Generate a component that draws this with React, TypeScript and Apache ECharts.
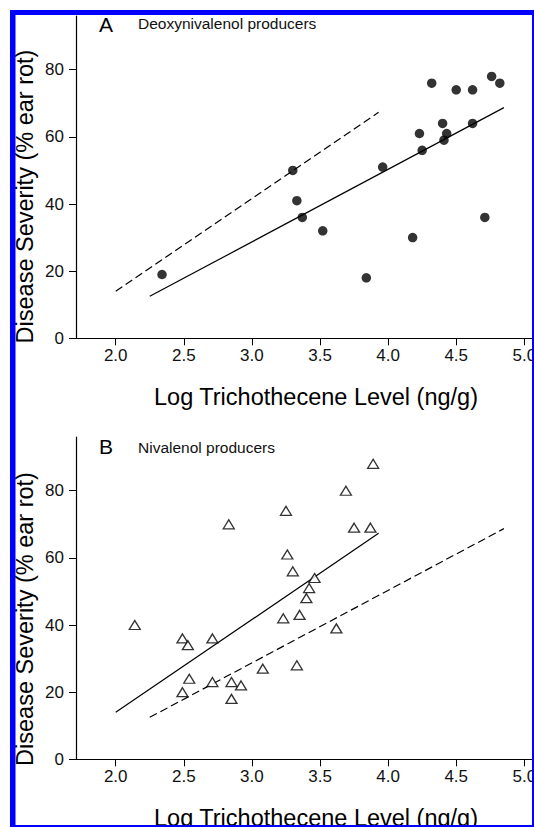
import React, { useEffect, useRef } from "react";
import * as echarts from "echarts";

// Panel A: deoxynivalenol producers (filled circles)
const donX = [2.34, 3.30, 3.33, 3.37, 3.52, 3.84, 3.96, 4.18, 4.23, 4.25, 4.32, 4.40, 4.41, 4.43, 4.50, 4.62, 4.62, 4.71, 4.76, 4.82];
const donY = [19, 50, 41, 36, 32, 18, 51, 30, 61, 56, 76, 64, 59, 61, 74, 74, 64, 36, 78, 76];

// Panel B: nivalenol producers (open triangles)
const nivX = [2.14, 2.49, 2.53, 2.71, 2.54, 2.49, 2.71, 2.85, 2.92, 2.85, 3.08, 3.33, 2.83, 3.25, 3.26, 3.30, 3.46, 3.42, 3.40, 3.23, 3.35, 3.62, 3.69, 3.75, 3.87, 3.89];
const nivY = [40, 36, 34, 36, 24, 20, 23, 23, 22, 18, 27, 28, 70, 74, 61, 56, 54, 51, 48, 42, 43, 39, 80, 69, 69, 88];

// Regression lines (end points)
const donFitX = [2.25, 4.85];
const donFitY = [12.5, 68.7];
const nivFitX = [2.0, 3.93];
const nivFitY = [14.0, 67.3];

const xTicks = [2.0, 2.5, 3.0, 3.5, 4.0, 4.5, 5.0];
const yTicks = [0, 20, 40, 60, 80];

const panelLetters = ["A", "B"];
const panelTitles = ["Deoxynivalenol producers", "Nivalenol producers"];
const xName = "Log Trichothecene Level (ng/g)";
const yName = "Disease Severity (% ear rot)";

const FONT = "'Liberation Sans', Arial, Helvetica, sans-serif";

const zip = (xs: number[], ys: number[]) => xs.map((x, i) => [x, ys[i]]);

export default function App() {
  const ref = useRef<HTMLDivElement>(null);
  useEffect(() => {
    if (!ref.current) return;
    const chart = echarts.init(ref.current, null, { renderer: "svg" });
    const X_MIN = 1.7085;
    const X_MAX = 5.071;
    const gridTops = [16, 437];
    const H = 322.3;
    const xAxisBase = (idx: number) => ({
      type: "value",
      gridIndex: idx,
      min: X_MIN,
      max: X_MAX,
      axisLine: { show: true, lineStyle: { color: "#000", width: 1.2 } },
      axisTick: { show: true, length: 7, customValues: xTicks, lineStyle: { color: "#000", width: 1 } },
      axisLabel: {
        show: true,
        customValues: xTicks,
        formatter: (v: number) => v.toFixed(1),
        fontSize: 17,
        color: "#111",
        fontFamily: FONT,
        margin: 9,
      },
      splitLine: { show: false },
    });
    const yAxisBase = (idx: number) => ({
      type: "value",
      gridIndex: idx,
      min: 0,
      max: 96,
      axisLine: { show: true, lineStyle: { color: "#000", width: 1.2 } },
      axisTick: { show: true, length: 7, customValues: yTicks, lineStyle: { color: "#000", width: 1 } },
      axisLabel: {
        show: true,
        customValues: yTicks,
        fontSize: 17,
        color: "#111",
        fontFamily: FONT,
        margin: 12,
      },
      splitLine: { show: false },
    });
    const lineSeries = (idx: number, xs: number[], ys: number[], dashed: boolean) => ({
      type: "line",
      xAxisIndex: idx,
      yAxisIndex: idx,
      data: zip(xs, ys),
      symbol: "none",
      lineStyle: { color: "#000", width: 1.2, type: dashed ? [8, 4] : "solid" },
      silent: true,
      z: 2,
    });
    const graphics: any[] = [];
    [0, 1].forEach((i) => {
      const off = i === 0 ? 0 : 421;
      graphics.push({
        type: "text",
        x: 99,
        y: 24 + off + (i === 1 ? 1.5 : 0),
        style: { text: panelLetters[i], fontSize: 21, fontFamily: FONT, fill: "#000", align: "left", verticalAlign: "middle" },
      });
      graphics.push({
        type: "text",
        x: 138,
        y: 23 + off + (i === 1 ? 3 : 0),
        style: { text: panelTitles[i], fontSize: 15.5, fontFamily: FONT, fill: "#111", align: "left", verticalAlign: "middle" },
      });
      graphics.push({
        type: "text",
        x: 316,
        y: 397 + off,
        style: { text: xName, fontSize: 23.5, fontFamily: FONT, fill: "#000", align: "center", verticalAlign: "middle" },
      });
      graphics.push({
        type: "text",
        x: 25.2,
        y: 196.5 + off + (i === 1 ? 1.5 : 0),
        rotation: Math.PI / 2,
        style: { text: yName, fontSize: 23.5, fontFamily: FONT, fill: "#000", align: "center", verticalAlign: "middle" },
      });
    });
    const blue = "#0000ff";
    graphics.push(
      { type: "rect", shape: { x: 10, y: 10, width: 524, height: 5 }, style: { fill: blue }, z: 100 },
      { type: "rect", shape: { x: 10, y: 10, width: 5.5, height: 817 }, style: { fill: blue }, z: 100 },
      { type: "rect", shape: { x: 532, y: 10, width: 2, height: 817 }, style: { fill: blue }, z: 100 },
      { type: "rect", shape: { x: 10, y: 825, width: 524, height: 2 }, style: { fill: blue }, z: 100 }
    );

    chart.setOption({
      animation: false,
      backgroundColor: "#fff",
      grid: gridTops.map((t) => ({
        left: 76,
        right: 0,
        top: t,
        height: H,
        containLabel: false,
        outerBoundsMode: "none",
      })),
      xAxis: [xAxisBase(0), xAxisBase(1)],
      yAxis: [yAxisBase(0), yAxisBase(1)],
      series: [
        {
          type: "scatter",
          xAxisIndex: 0,
          yAxisIndex: 0,
          data: zip(donX, donY),
          symbol: "circle",
          symbolSize: 9.5,
          itemStyle: { color: "#000" },
          z: 3,
        },
        lineSeries(0, donFitX, donFitY, false),
        lineSeries(0, nivFitX, nivFitY, true),
        {
          type: "scatter",
          xAxisIndex: 1,
          yAxisIndex: 1,
          data: zip(nivX, nivY),
          symbol: "triangle",
          symbolSize: [11, 9],
          itemStyle: { color: "#fff", borderColor: "#000", borderWidth: 1.3 },
          z: 3,
        },
        lineSeries(1, nivFitX, nivFitY, false),
        lineSeries(1, donFitX, donFitY, true),
      ],
      graphic: graphics,
    });
    return () => chart.dispose();
  }, []);
  return <div ref={ref} style={{ position: "fixed", left: 0, top: 0, width: 534, height: 827 }} />;
}
